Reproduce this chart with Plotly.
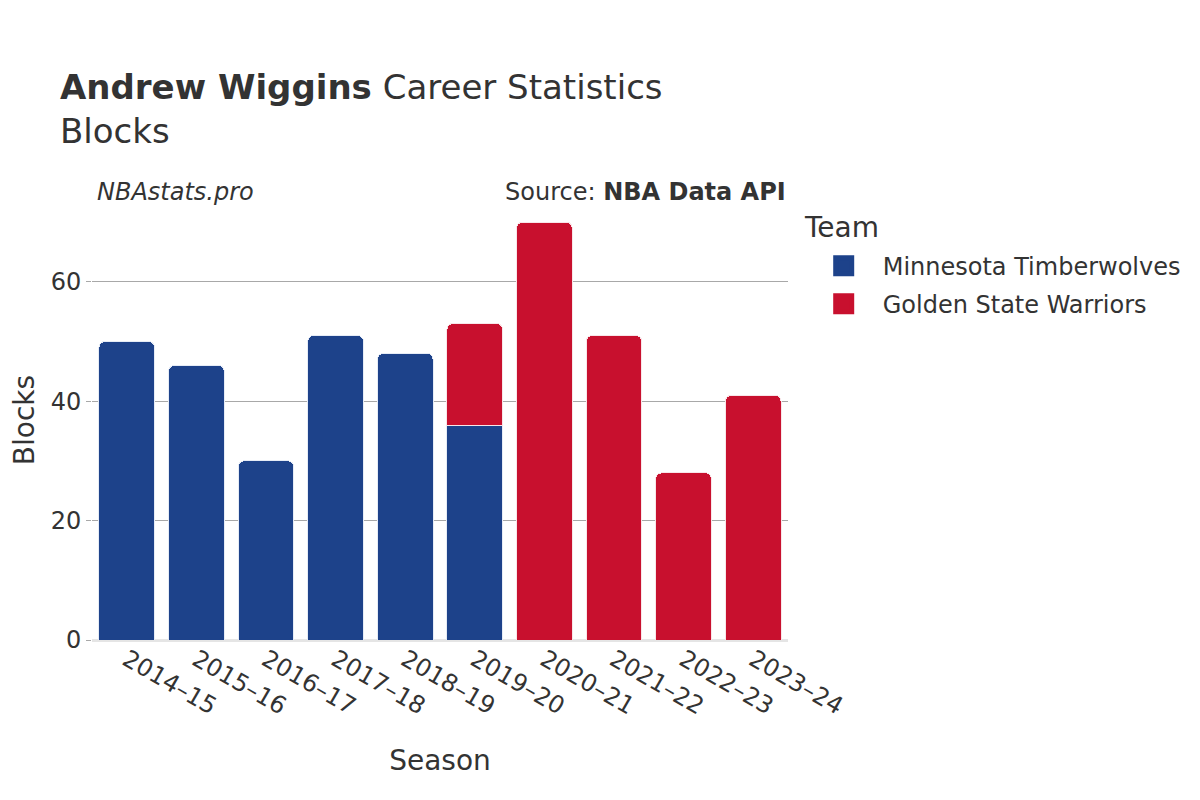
import plotly.graph_objects as go

seasons = ["2014–15", "2015–16", "2016–17", "2017–18", "2018–19",
           "2019–20", "2020–21", "2021–22", "2022–23", "2023–24"]
min_seasons = ["2014–15", "2015–16", "2016–17", "2017–18", "2018–19", "2019–20"]
min_blocks = [50, 46, 30, 51, 48, 36]
gsw_seasons = ["2019–20", "2020–21", "2021–22", "2022–23", "2023–24"]
gsw_blocks = [17, 70, 51, 28, 41]

teams = ["Minnesota Timberwolves", "Golden State Warriors"]
colors = ["#1D428A", "#C8102E"]
outline = ["#e6ecf6", "#f8e6e9"]

FONT = "DejaVu Sans"
TXT = "#333333"

fig = go.Figure()
for xs, ys, team, col, oc in [(min_seasons, min_blocks, teams[0], colors[0], outline[0]),
                              (gsw_seasons, gsw_blocks, teams[1], colors[1], outline[1])]:
    fig.add_trace(go.Bar(x=xs, y=ys, name=team, showlegend=False, legendgroup=team,
                         marker=dict(color=col, line=dict(color=oc, width=1))))
# legend-only entries with larger swatches
for team, col in zip(teams, colors):
    fig.add_trace(go.Scatter(x=[None], y=[None], name=team, legendgroup=team, showlegend=True,
                             mode="markers",
                             marker=dict(symbol="square", size=16, color=col,
                                         line=dict(color=col, width=5))))

fig.update_layout(
    width=1200, height=800,
    barmode="stack", bargap=0.2, barcornerradius=6,
    plot_bgcolor="white", paper_bgcolor="white",
    font=dict(family=FONT, color=TXT, size=24),
    margin=dict(l=84, r=420, t=192, b=168),
    title=dict(text="<b>Andrew Wiggins</b> Career Statistics<br>Blocks",
               x=52 / 1200, xanchor="left", y=0.886, yanchor="top",
               font=dict(size=34, family=FONT, color=TXT)),
    legend=dict(x=1.024, xanchor="left", y=0.901, yanchor="top",
                font=dict(size=24), traceorder="grouped", tracegroupgap=4,
                itemwidth=68),
    xaxis=dict(categoryorder="array", categoryarray=seasons, tickangle=30,
               title=dict(text="Season", font=dict(size=28), standoff=30), automargin=True,
               tickfont=dict(size=24), range=[-0.5, 9.5]),
    yaxis=dict(title=dict(text="Blocks", font=dict(size=28)), automargin=False,
               gridcolor="#a8a8a8", gridwidth=1,
               zeroline=True, zerolinecolor="#e5e5e5", zerolinewidth=3,
               ticks="outside", ticklen=5, tickcolor="#a8a8a8",
               tickfont=dict(size=24), dtick=20),
    annotations=[
        dict(text="<i>NBAstats.pro</i>", xref="paper", yref="paper", x=0.004, y=1.018,
             xanchor="left", yanchor="middle", showarrow=False, font=dict(size=24)),
        dict(text="Source: <b>NBA Data API</b>", xref="paper", yref="paper", x=1.0, y=1.018,
             xanchor="right", yanchor="middle", showarrow=False, font=dict(size=24)),
        dict(text="Team", xref="paper", yref="paper", x=1.0201, y=0.9386,
             xanchor="left", yanchor="middle", showarrow=False, font=dict(size=28)),
    ],
)

fig.write_html("out.html")
